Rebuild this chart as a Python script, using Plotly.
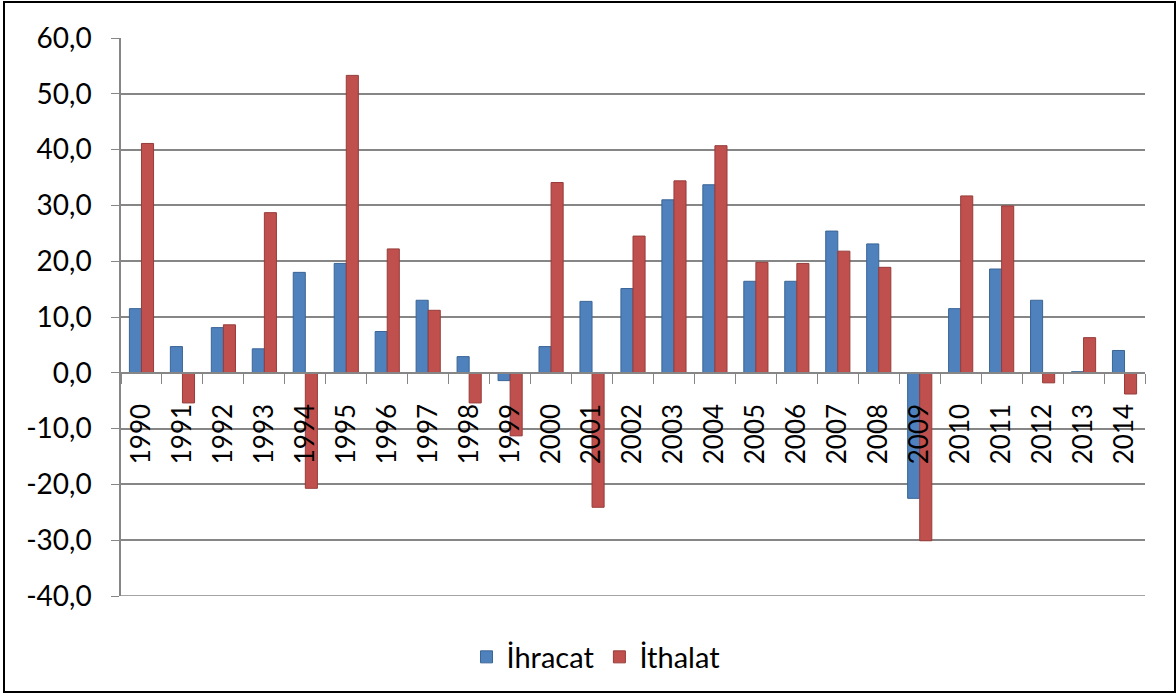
import plotly.graph_objects as go

years = [str(y) for y in range(1990, 2015)]
ihracat = [11.5, 4.7, 8.1, 4.3, 18.0, 19.6, 7.4, 13.0, 2.9, -1.4, 4.7, 12.8, 15.1,
           31.0, 33.7, 16.4, 16.4, 25.4, 23.1, -22.5, 11.5, 18.6, 13.0, 0.2, 4.0]
ithalat = [41.1, -5.4, 8.6, 28.7, -20.7, 53.3, 22.2, 11.2, -5.4, -11.3, 34.1, -24.1, 24.5,
           34.4, 40.7, 19.8, 19.6, 21.8, 18.9, -30.1, 31.7, 29.9, -1.8, 6.3, -3.8]
y_ticks = [-40, -30, -20, -10, 0, 10, 20, 30, 40, 50, 60]
y_tick_text = ["-40,0", "-30,0", "-20,0", "-10,0", "0,0", "10,0", "20,0", "30,0", "40,0", "50,0", "60,0"]

W, H = 1176, 694
ML, MR, MT, MB = 121, 31, 38, 98
PW, PH = W - ML - MR, H - MT - MB
FONT = "Lato, Open Sans, sans-serif"
GRID = "#868686"

fig = go.Figure()
fig.add_trace(go.Bar(name="İhracat", x=years, y=ihracat,
                     marker=dict(color="#4F81BD", line=dict(color="#3A6596", width=1))))
fig.add_trace(go.Bar(name="İthalat", x=years, y=ithalat,
                     marker=dict(color="#C0504D", line=dict(color="#963C3A", width=1))))

def px_x(p):
    return (p - ML) / PW

def px_y(p):
    return (H - MB - p) / PH

fig.add_shape(type="rect", xref="paper", yref="paper",
              x0=px_x(4), x1=px_x(1175), y0=px_y(692), y1=px_y(2),
              line=dict(color="black", width=2), fillcolor="rgba(0,0,0,0)", layer="below")
fig.add_shape(type="line", xref="paper", yref="y", x0=0, x1=1, y0=-40, y1=-40,
              line=dict(color=GRID, width=1.5), layer="below")

fig.update_layout(
    width=W, height=H,
    margin=dict(l=ML, r=MR, t=MT, b=MB, autoexpand=False),
    paper_bgcolor="white", plot_bgcolor="white",
    barmode="group", bargap=0.41, bargroupgap=0.0,
    font=dict(family=FONT, color="black"),
    showlegend=True,
    legend=dict(orientation="h", x=px_x(596), xanchor="center", y=px_y(657), yanchor="middle",
                font=dict(size=29, family=FONT), traceorder="normal"),
    xaxis=dict(anchor="free", position=0.4, tickangle=-90, tickfont=dict(size=26),
               showline=True, linecolor=GRID, linewidth=1.5,
               ticks="outside", ticklen=10, tickcolor=GRID, tickson="boundaries",
               showgrid=False, zeroline=False, ticklabelstandoff=20),
    yaxis=dict(range=[-40, 60], tickvals=y_ticks, ticktext=y_tick_text,
               tickfont=dict(size=28), showline=True, linecolor=GRID, linewidth=1.5,
               ticks="outside", ticklen=8, tickcolor=GRID,
               showgrid=True, gridcolor=GRID, gridwidth=1.5, zeroline=False,
               ticklabelstandoff=14),
)

fig.write_html("out.html", config={"displayModeBar": False},
               post_script="document.body.style.margin='0';document.body.style.overflow='hidden';")
